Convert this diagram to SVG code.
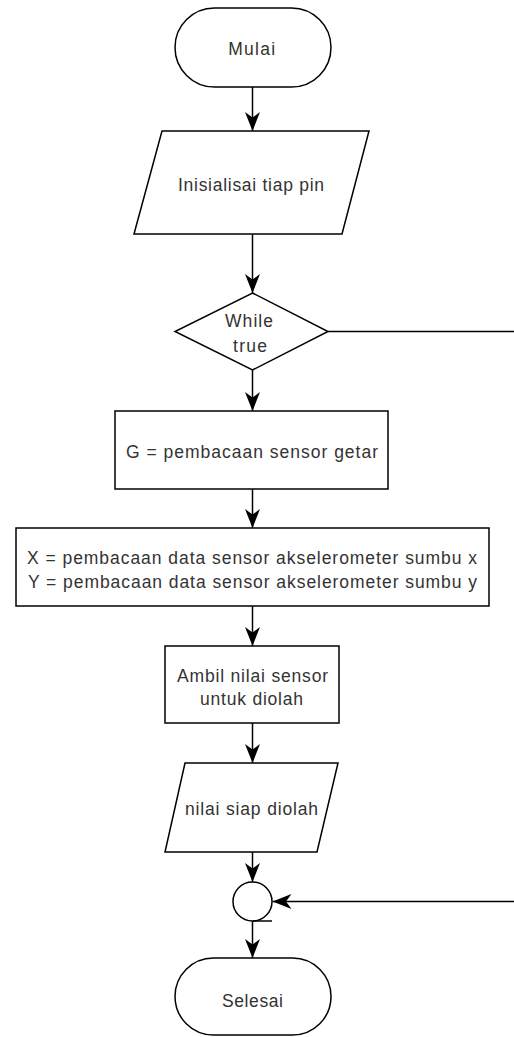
<svg xmlns="http://www.w3.org/2000/svg" width="514" height="1037" viewBox="0 0 514 1037">
<defs>
<style>
.s{fill:#ffffff;stroke:#000000;stroke-width:1.5}
.t{font-family:"Liberation Sans",Arial,sans-serif;font-size:17.5px;fill:#333333;text-anchor:middle}
.e{fill:none;stroke:#000000;stroke-width:1.5}
</style>
<marker id="ah" markerUnits="userSpaceOnUse" markerWidth="22" markerHeight="20" viewBox="-20 -9 22 18" refX="0" refY="0" orient="auto">
<path d="M0,0 L-19,-7.5 L-13.5,0 L-19,7.5 Z" fill="#000000"/>
</marker>
</defs>
<rect width="514" height="1037" fill="#ffffff"/>
<g id="edges">
<path class="e" d="M252.5,87 V131" marker-end="url(#ah)"/>
<path class="e" d="M252.5,234 V293" marker-end="url(#ah)"/>
<path class="e" d="M252.5,370 V411" marker-end="url(#ah)"/>
<path class="e" d="M252.5,489 V528" marker-end="url(#ah)"/>
<path class="e" d="M252.5,606 V646" marker-end="url(#ah)"/>
<path class="e" d="M252.5,723 V763" marker-end="url(#ah)"/>
<path class="e" d="M252.5,852 V882" marker-end="url(#ah)"/>
<path class="e" d="M252.5,921 V958" marker-end="url(#ah)"/>
<path class="e" d="M328,331.5 H540 V901.5 H272.5" marker-end="url(#ah)"/>
</g>
<g id="mulai">
<rect class="s" x="175" y="8" width="156" height="79" rx="39.5" ry="39.5"/>
<text class="t" x="251.7" y="55" textLength="47" lengthAdjust="spacing">Mulai</text>
</g>
<g id="inisialisasi">
<polygon class="s" points="162,131 369,131 342,234 134,234"/>
<text class="t" x="251" y="190.5" textLength="146" lengthAdjust="spacing">Inisialisai tiap pin</text>
</g>
<g id="while">
<polygon class="s" points="252.5,293 328,331.5 252.5,370 175,331.5"/>
<text class="t" x="249" y="326.5" textLength="48" lengthAdjust="spacing">While</text>
<text class="t" x="250" y="351.5" textLength="34" lengthAdjust="spacing">true</text>
</g>
<g id="getar">
<rect class="s" x="115" y="411" width="273" height="78"/>
<text class="t" x="252" y="458.3" textLength="252" lengthAdjust="spacing">G = pembacaan sensor getar</text>
</g>
<g id="akselerometer">
<rect class="s" x="16" y="528" width="473" height="78"/>
<text class="t" x="252" y="564" textLength="450" lengthAdjust="spacing">X = pembacaan data sensor akselerometer sumbu x</text>
<text class="t" x="252.5" y="588.3" textLength="449" lengthAdjust="spacing">Y = pembacaan data sensor akselerometer sumbu y</text>
</g>
<g id="ambil">
<rect class="s" x="165" y="646" width="174" height="77"/>
<text class="t" x="252.5" y="681.5" textLength="151" lengthAdjust="spacing">Ambil nilai sensor</text>
<text class="t" x="251.5" y="705" textLength="103" lengthAdjust="spacing">untuk diolah</text>
</g>
<g id="nilai">
<polygon class="s" points="185,763 338,763 317,852 165,852"/>
<text class="t" x="251.5" y="815" textLength="133" lengthAdjust="spacing">nilai siap diolah</text>
</g>
<g id="connector">
<circle class="s" cx="252.5" cy="901.5" r="19.5"/>
<line class="e" x1="253" y1="921" x2="272" y2="921"/>
</g>
<g id="selesai">
<rect class="s" x="175" y="958" width="156" height="77" rx="38.5" ry="38.5"/>
<text class="t" x="252.5" y="1006.5" textLength="61" lengthAdjust="spacing">Selesai</text>
</g>
</svg>
